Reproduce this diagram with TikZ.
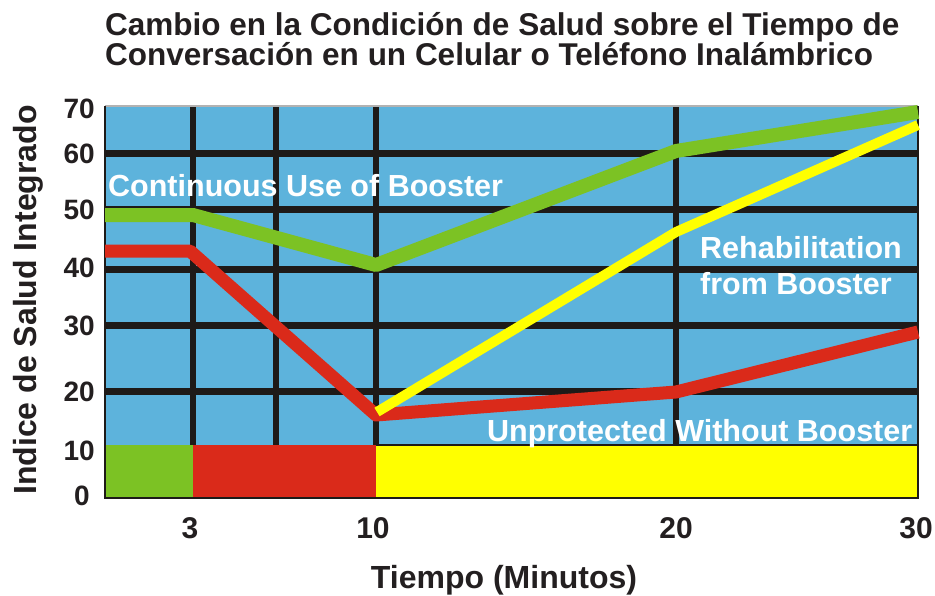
\documentclass[tikz,border=0pt]{standalone}
\usepackage{fontspec}
\setmainfont{Liberation Sans}

\definecolor{plotblue}{HTML}{5DB3DC}
\definecolor{gridblack}{HTML}{1E1A18}
\definecolor{textblack}{HTML}{231F20}
\definecolor{boostgreen}{HTML}{7CC224}
\definecolor{unprotred}{HTML}{DA2A1A}
\definecolor{rehabyellow}{HTML}{FFFF00}

\tikzset{
  gridline/.style={gridblack, line width=7pt},
  vgridline/.style={gridblack, line width=6pt},
  curve/.style={line width=#1, line join=round},
  ticklabel/.style={textblack, font=\fontsize{28}{28}\selectfont\bfseries, inner sep=0pt},
  axistitle/.style={textblack, font=\fontsize{32}{32}\selectfont\bfseries, inner sep=0pt},
  titleline/.style={textblack, font=\fontsize{31.5}{34}\selectfont\bfseries, inner sep=0pt, anchor=base west},
  curvelabel/.style={white, font=\fontsize{30.5}{36}\selectfont\bfseries, inner sep=0pt, align=left, anchor=base west}
}

\begin{document}
\begin{tikzpicture}[x=1pt, y=-1pt]
	\useasboundingbox (0,0) rectangle (935,595);

	\fill[plotblue] (105,106) rectangle (918,445);

	\foreach \yy in {153, 209, 269, 325, 391}
		\draw[gridline] (105,\yy) -- (918,\yy);
	\foreach \xx in {193, 276, 376, 676}
		\draw[vgridline] (\xx,106) -- (\xx,445);

	\fill[boostgreen] (105,445) rectangle (193,498);
	\fill[unprotred] (193,445) rectangle (376,498);
	\fill[rehabyellow] (376,445) rectangle (918,498);
	\draw[gridblack, line width=1.5pt] (376,445) -- (918,445);

	\draw[gray!60, line width=1.5pt] (105,106) -- (918,106);
	\draw[gridblack, line width=1.5pt] (105,106) -- (105,498) -- (918,498) -- (918,106);

	\coordinate (g0) at (105,215);
	\coordinate (g3) at (193,215);
	\coordinate (g10) at (376,265);
	\coordinate (g20) at (676,151);
	\coordinate (g30) at (918,112);
	\draw[boostgreen, curve=14pt] (g0) -- (g3) -- (g10) -- (g20) -- (g30);

	\coordinate (r0) at (105,251);
	\coordinate (r3) at (190,251);
	\coordinate (r10) at (376,415);
	\coordinate (r20) at (676,392);
	\coordinate (r30) at (918,332);
	\draw[unprotred, curve=13pt] (r0) -- (r3) -- (r10) -- (r20) -- (r30);

	\coordinate (y10) at (377,412);
	\coordinate (y20) at (676,232);
	\coordinate (y30) at (918,125);
	\draw[rehabyellow, curve=10pt] (y10) -- (y20) -- (y30);

	\node[curvelabel] (continuous) at (108,196) {Continuous Use of Booster};
	\node[curvelabel] (rehab) at (700,294) {Rehabilitation\\from Booster};
	\node[curvelabel] (unprot) at (487,441) {Unprotected Without Booster};

	\node[ticklabel, anchor=base east] (t70) at (95,118) {70};
	\node[ticklabel, anchor=base east] (t60) at (95,163) {60};
	\node[ticklabel, anchor=base east] (t50) at (95,219) {50};
	\node[ticklabel, anchor=base east] (t40) at (95,277) {40};
	\node[ticklabel, anchor=base east] (t30) at (95,335) {30};
	\node[ticklabel, anchor=base east] (t20) at (95,401) {20};
	\node[ticklabel, anchor=base east] (t10) at (95,460) {10};
	\node[ticklabel, anchor=base east] (t0) at (90,505) {0};

	\node[ticklabel, font=\fontsize{30}{30}\selectfont\bfseries, anchor=base] (m3) at (190,538) {3};
	\node[ticklabel, font=\fontsize{30}{30}\selectfont\bfseries, anchor=base] (m10) at (373,538) {10};
	\node[ticklabel, font=\fontsize{30}{30}\selectfont\bfseries, anchor=base] (m20) at (676,538) {20};
	\node[ticklabel, font=\fontsize{30}{30}\selectfont\bfseries, anchor=base] (m30) at (916,538) {30};

	\node[axistitle, anchor=base] (xtitle) at (504,588) {Tiempo (Minutos)};
	\node[axistitle, anchor=base, rotate=90] (ytitle) at (36,300) {Indice de Salud Integrado};

	\node[titleline] (title1) at (105,35) {Cambio en la Condición de Salud sobre el Tiempo de};
	\node[titleline] (title2) at (105,65) {Conversación en un Celular o Teléfono Inalámbrico};
\end{tikzpicture}
\end{document}
